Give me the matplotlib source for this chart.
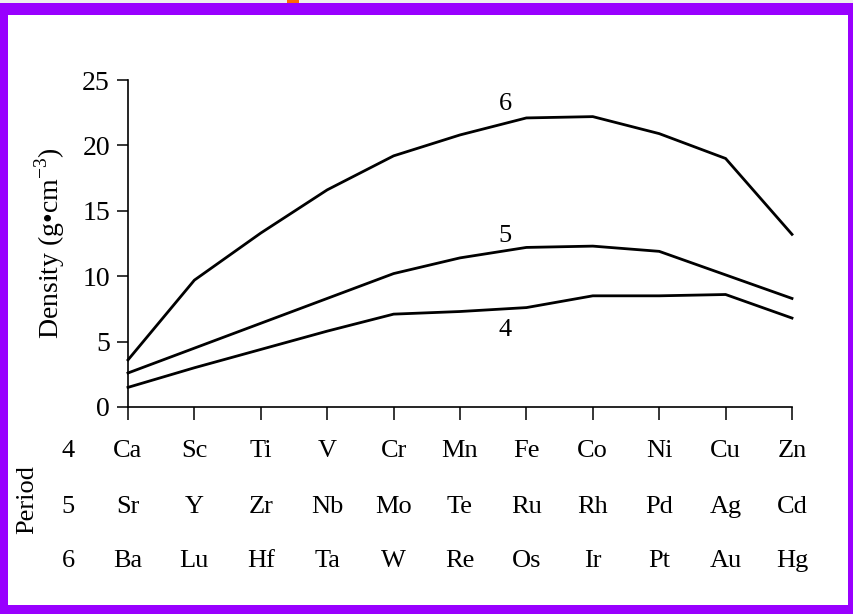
import matplotlib.pyplot as plt
from matplotlib.patches import Rectangle

plt.rcParams['font.family'] = ['Liberation Serif', 'DejaVu Serif']
plt.rcParams['mathtext.fontset'] = 'custom'
plt.rcParams['mathtext.rm'] = 'Liberation Serif'

# element symbols for each period (columns = groups)
period4 = ['Ca', 'Sc', 'Ti', 'V', 'Cr', 'Mn', 'Fe', 'Co', 'Ni', 'Cu', 'Zn']
period5 = ['Sr', 'Y', 'Zr', 'Nb', 'Mo', 'Te', 'Ru', 'Rh', 'Pd', 'Ag', 'Cd']
period6 = ['Ba', 'Lu', 'Hf', 'Ta', 'W', 'Re', 'Os', 'Ir', 'Pt', 'Au', 'Hg']

# densities (g/cm^3)
density4 = [1.5, 3.0, 4.4, 5.8, 7.1, 7.3, 7.6, 8.5, 8.5, 8.6, 6.8]
density5 = [2.6, 4.5, 6.4, 8.3, 10.2, 11.4, 12.2, 12.3, 11.9, 10.1, 8.3]
density6 = [3.6, 9.7, 13.3, 16.6, 19.2, 20.8, 22.1, 22.2, 20.9, 19.0, 13.2]

periods = ['4', '5', '6']
rows = [period4, period5, period6]
yticks = [0, 5, 10, 15, 20, 25]

fig = plt.figure(figsize=(8.54, 6.14), dpi=100)

# frame around the picture (pixel coordinates)
bg = fig.add_axes([0, 0, 1, 1], zorder=-5)
bg.set_xlim(0, 854)
bg.set_ylim(614, 0)
bg.axis('off')
purple = '#9900ff'
bg.add_patch(Rectangle((0, 0), 854, 3, color='#eeeeee', lw=0))
bg.add_patch(Rectangle((287, 0), 12, 3, color='#ff6a00', lw=0))
bg.add_patch(Rectangle((0, 3), 854, 12, color=purple, lw=0))
bg.add_patch(Rectangle((0, 605), 854, 9, color=purple, lw=0))
bg.add_patch(Rectangle((0, 3), 8, 611, color=purple, lw=0))
bg.add_patch(Rectangle((848, 3), 6, 611, color=purple, lw=0))

ax = fig.add_axes([128 / 854, 1 - 407 / 614, 664 / 854, 327 / 614])
x = list(range(len(period4)))
for dens in [density4, density5, density6]:
    ax.plot(x, dens, color='black', lw=2.0, solid_joinstyle='miter', clip_on=False)

ax.set_xlim(0, 10)
ax.set_ylim(0, 25)
ax.set_xticks(x)
ax.set_xticklabels([])
ax.set_yticks(yticks)
ax.set_yticklabels([str(v) for v in yticks])
ax.tick_params(axis='y', length=8, width=1.1, pad=5, labelsize=20)
ax.tick_params(axis='x', length=9, width=1.1)
for side in ['top', 'right']:
    ax.spines[side].set_visible(False)
for side in ['left', 'bottom']:
    ax.spines[side].set_linewidth(1.2)

ax.set_ylabel('Density (g•cm$^{-3}$)', fontsize=20, labelpad=11)

# curve labels
ax.text(5.68, 23.2, '6', fontsize=19, ha='center', va='center')
ax.text(5.68, 13.1, '5', fontsize=19, ha='center', va='center')
ax.text(5.68, 5.9, '4', fontsize=19, ha='center', va='center')

# element table under the axis
trans = ax.get_xaxis_transform()
row_y = [-0.153, -0.324, -0.489]
for p, row, ry in zip(periods, rows, row_y):
    ax.text(-0.9, ry, p, transform=trans, fontsize=19, ha='center', va='baseline')
    for i, sym in enumerate(row):
        ax.text(i, ry, sym, transform=trans, fontsize=19, ha='center', va='baseline')

fig.text(27 / 854, 1 - 499 / 614, 'Period', rotation=90, fontsize=19,
         ha='center', va='center')

fig.savefig('out.png', dpi=100)
